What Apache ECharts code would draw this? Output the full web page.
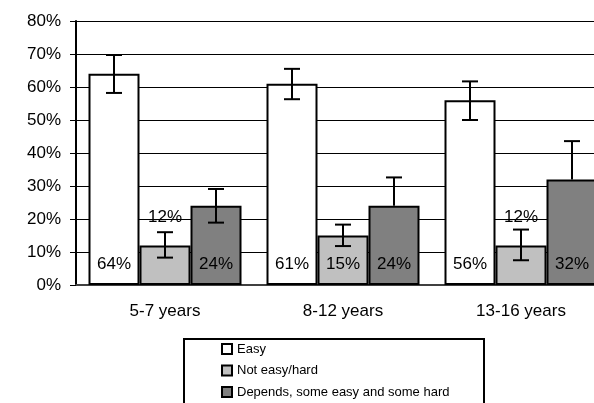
<!DOCTYPE html>
<html>
<head>
<meta charset="utf-8">
<script src="https://cdn.jsdelivr.net/npm/echarts@6/dist/echarts.min.js"></script>
<style>
  html, body { margin: 0; padding: 0; background: #fff; overflow: hidden; }
  /* 图表比窗口宽一点: 最后一组柱子在原图中被右边缘截掉 */
  #chart { width: 610px; height: 403px; }
</style>
</head>
<body>
<div id="chart"></div>
<script>
// 数据
const categories = ['5-7 years', '8-12 years', '13-16 years'];
const seriesNames = ['Easy', 'Not easy/hard', 'Depends, some easy and some hard'];
const easy = [64, 61, 56];
const notEasy = [12, 15, 12];
const depends = [24, 24, 32];
// error bars (upper / lower ends, null = no lower arm)
const easyHigh = [69.7, 65.5, 61.7];
const easyLow = [58.2, 56.3, 50.0];
const notEasyHigh = [16.0, 18.3, 16.8];
const notEasyLow = [8.3, 11.8, 7.5];
const dependsHigh = [29.1, 32.6, 43.6];
const dependsLow = [18.9, null, null];
const yTicks = [0, 10, 20, 30, 40, 50, 60, 70, 80];

const FONT = "'Liberation Sans', Arial, sans-serif";
const BAR_W = 51;
const colors = ['#ffffff', '#c0c0c0', '#808080'];
const values = [easy, notEasy, depends];
const highs = [easyHigh, notEasyHigh, dependsHigh];
const lows = [easyLow, notEasyLow, dependsLow];
const labelAboveIdx = [0, 2]; // 不够高的柱子, 标签放在上方

const chart = echarts.init(document.getElementById('chart'));

const barSeries = values.map((vals, s) => ({
  name: seriesNames[s],
  type: 'bar',
  barWidth: BAR_W,
  barGap: '0%',
  itemStyle: { color: colors[s], borderColor: '#000', borderWidth: 2 },
  label: {
    show: true,
    position: 'insideBottom',
    distance: 12,
    formatter: '{c}%',
    color: '#000',
    fontFamily: FONT,
    fontSize: 17
  },
  z: 2,
  data: vals.map((v, i) => (s === 1 && labelAboveIdx.includes(i))
    ? { value: v, label: { distance: 59 } }
    : v)
}));

const errData = [];
highs.forEach((hs, s) => {
  hs.forEach((h, i) => {
    errData.push([i, values[s][i], h, lows[s][i] == null ? values[s][i] : lows[s][i], s, lows[s][i] == null ? 0 : 1]);
  });
});

const errSeries = {
  type: 'custom',
  name: 'err',
  z: 5,
  silent: true,
  data: errData,
  renderItem: function (params, api) {
    const s = api.value(4);
    const dx = (s - 1) * BAR_W;
    const top = api.coord([api.value(0), api.value(2)]);
    const bot = api.coord([api.value(0), api.value(3)]);
    const x = top[0] + dx;
    const cw = 8;
    const st = { stroke: '#000', lineWidth: 2 };
    const children = [
      { type: 'line', shape: { x1: x, y1: top[1], x2: x, y2: bot[1] }, style: st },
      { type: 'line', shape: { x1: x - cw, y1: top[1], x2: x + cw, y2: top[1] }, style: st }
    ];
    if (api.value(5) === 1) {
      children.push({ type: 'line', shape: { x1: x - cw, y1: bot[1], x2: x + cw, y2: bot[1] }, style: st });
    }
    return { type: 'group', children: children };
  }
};

const option = {
  backgroundColor: '#fff',
  animation: false,
  grid: { left: 76, top: 21, right: 0, height: 264 },
  legend: {
    orient: 'vertical',
    left: 221,
    top: 342.5,
    padding: 0,
    itemGap: 8.5,
    itemWidth: 10,
    itemHeight: 10,
    icon: 'rect',
    data: seriesNames,
    itemStyle: { borderColor: '#000', borderWidth: 2 },
    textStyle: { fontFamily: FONT, fontSize: 13, color: '#000', lineHeight: 13 }
  },
  graphic: [{
    type: 'rect',
    shape: { x: 184, y: 339, width: 300, height: 80 },
    style: { fill: 'none', stroke: '#000', lineWidth: 2 },
    z: -1
  }],
  xAxis: {
    type: 'category',
    data: categories,
    axisLine: { lineStyle: { color: '#404040', width: 2 } },
    axisTick: { show: false },
    axisLabel: { margin: 18, color: '#000', fontFamily: FONT, fontSize: 17 }
  },
  yAxis: {
    type: 'value',
    min: yTicks[0],
    max: yTicks[yTicks.length - 1],
    interval: 10,
    axisLine: { show: true, lineStyle: { color: '#000', width: 2 } },
    axisTick: { show: true, length: 6, lineStyle: { color: '#000', width: 1 } },
    splitLine: { lineStyle: { color: '#000', width: 1 } },
    axisLabel: { margin: 15, color: '#000', fontFamily: FONT, fontSize: 17, formatter: '{value}%' }
  },
  series: barSeries.concat([errSeries])
};

chart.setOption(option);
</script>
</body>
</html>
